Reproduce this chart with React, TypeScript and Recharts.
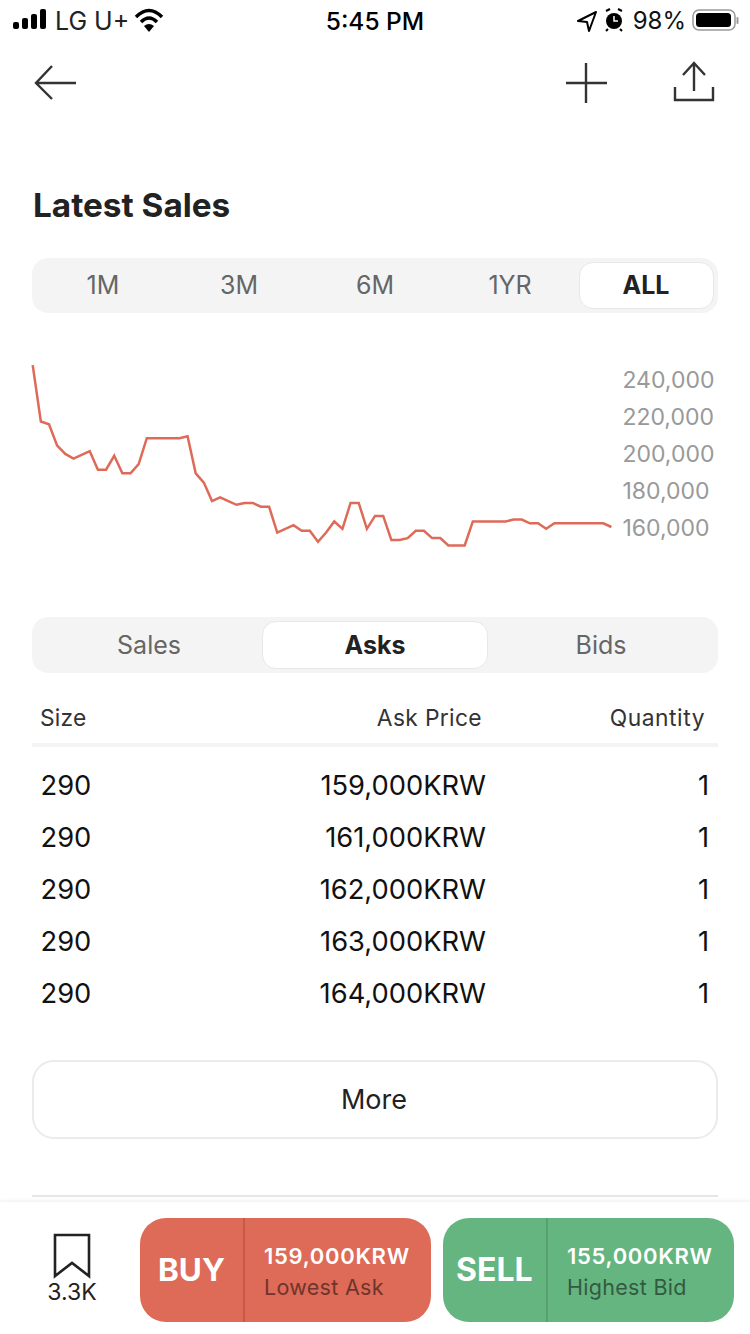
import React from "react";
import { LineChart, Line, XAxis, YAxis } from "recharts";

const prices = [
  247500, 217000, 215500, 204000, 199500, 197000, 199000, 201000, 191000, 191000,
  198500, 189000, 189000, 194000, 208000, 208000, 208000, 208000, 208000, 209000,
  189000, 184000, 174000, 176000, 174000, 172000, 173000, 173000, 171000, 171000,
  157000, 159000, 161000, 158000, 158000, 152000, 157000, 163000, 159000, 173000,
  173000, 159000, 166000, 166000, 153000, 153000, 154000, 158000, 158000, 154000,
  154000, 150000, 150000, 150000, 163000, 163000, 163000, 163000, 163000, 164000,
  164000, 162000, 162000, 159000, 162000, 162000, 162000, 162000, 162000, 162000,
  162000, 160000,
];
const yTicks = [160000, 180000, 200000, 220000, 240000];
const rangeTabs = ["1M", "3M", "6M", "1YR", "ALL"];
const rangeCenters = [103, 239, 375, 510, 646];
const listTabs = ["Sales", "Asks", "Bids"];
const listCenters = [149, 375, 601];
const rowSizes = ["290", "290", "290", "290", "290"];
const rowPrices = ["159,000KRW", "161,000KRW", "162,000KRW", "163,000KRW", "164,000KRW"];
const rowQuantities = ["1", "1", "1", "1", "1"];

const chartData = prices.map((price, i) => ({ i, price }));
const F = "Inter, sans-serif";

type TP = { x: number; y: number; s: number; c?: string; w?: number; a?: "l" | "c" | "r"; ls?: number; children: React.ReactNode };
const T = ({ x, y, s, c = "#222", w = 400, a = "l", ls = 0, children }: TP) => (
  <div style={{
    position: "absolute", top: y - 30, height: 60, lineHeight: "60px", whiteSpace: "nowrap",
    fontFamily: F, fontSize: s, color: c, fontWeight: w, letterSpacing: ls,
    left: a === "r" ? undefined : x,
    right: a === "r" ? 750 - x : undefined,
    transform: a === "c" ? "translateX(-50%)" : undefined,
  }}>{children}</div>
);
const Box = ({ l, t, r, b, bg = "transparent", rad = 0, border, shadow }: { l: number; t: number; r: number; b: number; bg?: string; rad?: number; border?: string; shadow?: string }) => (
  <div style={{ position: "absolute", left: l, top: t, width: r - l, height: b - t, background: bg, borderRadius: rad, border, boxSizing: "border-box", boxShadow: shadow }} />
);

export default function App() {
  return (
    <div style={{ position: "absolute", left: 0, top: 0, width: 750, height: 1334, background: "#fff", overflow: "hidden" }}>
      {/* status bar */}
      <svg style={{ position: "absolute", left: 0, top: 0 }} width={750} height={120} fill="none">
        <rect x={13} y={22} width={6} height={7} rx={2} fill="#000" />
        <rect x={22} y={18} width={6} height={11} rx={2} fill="#000" />
        <rect x={31} y={14} width={6} height={15} rx={2} fill="#000" />
        <rect x={40} y={9} width={6} height={20} rx={2} fill="#000" />
        <path d="M136 17 Q149 4 162 17" stroke="#000" strokeWidth={3.5} />
        <path d="M141 22 Q149 14 157 22" stroke="#000" strokeWidth={3.5} />
        <path d="M144 26 L149 32 L154 26 Q149 22 144 26Z" fill="#000" />
        <path d="M596 12 L578 21 L587 22 L589 31 Z" stroke="#000" strokeWidth={2} strokeLinejoin="round" />
        <circle cx={614} cy={21} r={8} fill="#000" />
        <path d="M606 11 L610 9 M622 11 L618 9 M608 29 L606 31 M620 29 L622 31" stroke="#000" strokeWidth={2} />
        <path d="M614 16 V21 H618" stroke="#fff" strokeWidth={1.5} />
        <rect x={693} y={10} width={42} height={20} rx={6} stroke="#999" strokeWidth={1.5} />
        <rect x={696} y={13} width={35} height={14} rx={3.5} fill="#000" />
        <rect x={736.5} y={17} width={2} height={7} rx={1} fill="#999" />
        {/* nav */}
        <path d="M76 83 H36 M52 66 L36 83 L52 99" stroke="#333" strokeWidth={2.4} />
        <path d="M566 83 H607 M586 63 V103" stroke="#333" strokeWidth={2.4} />
        <path d="M694 91 V63 M683 75 L694 63 L705 75" stroke="#333" strokeWidth={2.4} />
        <path d="M675 87 V100 H713 V87" stroke="#333" strokeWidth={2.4} />
      </svg>
      <T x={55} y={21} s={25}>LG U+</T>
      <T x={375} y={21} s={24.5} w={500} c="#000" a="c">5:45 PM</T>
      <T x={686} y={21} s={24} c="#111" a="r">98%</T>

      <T x={33} y={205} s={33.3} w={700}>Latest Sales</T>

      {/* range tabs */}
      <Box l={32} t={258} r={718} b={313} bg="#f4f4f4" rad={16} />
      <Box l={579} t={262} r={714} b={309} bg="#fff" rad={14} border="1px solid #e8e8e8" />
      {rangeTabs.map((t, i) => (
        <T key={t} x={rangeCenters[i]} y={285} s={25} a="c" c={t === "ALL" ? "#222" : "#666"} w={t === "ALL" ? 700 : 400}>{t}</T>
      ))}

      {/* chart */}
      <div style={{ position: "absolute", left: 0, top: 342 }}>
        <LineChart width={750} height={222} data={chartData} margin={{ top: 0, right: 0, bottom: 0, left: 32.7 }}>
          <XAxis dataKey="i" hide padding={{ left: 0, right: 0 }} />
          <YAxis
            orientation="right"
            width={138.6}
            domain={[140000, 260000]}
            ticks={yTicks}
            axisLine={false}
            tickLine={false}
            tickMargin={5}
            interval={0}
            tickFormatter={(v: number) => v.toLocaleString("en-US")}
            tick={{ fill: "#999", fontSize: 23, fontFamily: F, textAnchor: "start", dy: 1 }}
          />
          <Line dataKey="price" type="linear" stroke="#de6a58" strokeWidth={2.5} dot={false} isAnimationActive={false} />
        </LineChart>
      </div>

      {/* list tabs */}
      <Box l={32} t={617} r={718} b={673} bg="#f4f4f4" rad={16} />
      <Box l={262} t={621} r={488} b={669} bg="#fff" rad={14} border="1px solid #e8e8e8" />
      {listTabs.map((t, i) => (
        <T key={t} x={listCenters[i]} y={645} s={25} a="c" c={t === "Asks" ? "#222" : "#666"} w={t === "Asks" ? 700 : 400}>{t}</T>
      ))}

      {/* table */}
      <T x={40} y={718} s={22.8} c="#333" ls={0.2}>Size</T>
      <T x={482} y={718} s={22.8} c="#333" a="r" ls={0.35}>Ask Price</T>
      <T x={705} y={718} s={22.8} c="#333" a="r" ls={0.55}>Quantity</T>
      <Box l={32} t={743} r={718} b={747} bg="#f4f4f4" />
      {rowPrices.map((p, i) => (
        <React.Fragment key={p}>
          <T x={40.5} y={786 + i * 52} s={27.3} c="#111">{rowSizes[i]}</T>
          <T x={486} y={786 + i * 52} s={27.3} c="#111" a="r">{p}</T>
          <T x={709} y={786 + i * 52} s={27.3} c="#111" a="r">{rowQuantities[i]}</T>
        </React.Fragment>
      ))}

      {/* more */}
      <Box l={32} t={1060} r={718} b={1139} bg="#fff" rad={22} border="2px solid #ebebeb" />
      <T x={374} y={1100} s={27} c="#222" a="c">More</T>
      <Box l={32} t={1195} r={718} b={1197} bg="#e6e6e6" />

      {/* bottom bar */}
      <Box l={0} t={1202} r={750} b={1334} bg="#fff" shadow="0 -2px 3px rgba(0,0,0,0.05)" />
      <svg style={{ position: "absolute", left: 0, top: 1202 }} width={140} height={132} fill="none">
        <path d="M55 33 V74 L72 61 L89 74 V33 Z" stroke="#222" strokeWidth={2.6} />
      </svg>
      <T x={72} y={1292} s={23} a="c" c="#222">3.3K</T>

      <Box l={140} t={1218} r={431} b={1322} bg="#de6a58" rad={26} />
      <Box l={243} t={1218} r={244.5} b={1322} bg="#c65a49" />
      <T x={158} y={1270} s={31.5} w={700} c="#fff">BUY</T>
      <T x={264} y={1256} s={22} w={600} c="#fff" ls={0.7}>159,000KRW</T>
      <T x={264} y={1287} s={21.5} c="#6e352c" ls={0.3}>Lowest Ask</T>

      <Box l={443} t={1218} r={734} b={1322} bg="#65b580" rad={26} />
      <Box l={546} t={1218} r={547.5} b={1322} bg="#57a170" />
      <T x={456} y={1270} s={32} w={700} c="#fff">SELL</T>
      <T x={567} y={1256} s={22} w={600} c="#fff" ls={0.7}>155,000KRW</T>
      <T x={567} y={1287} s={21.5} c="#335a40" ls={0.3}>Highest Bid</T>
    </div>
  );
}
